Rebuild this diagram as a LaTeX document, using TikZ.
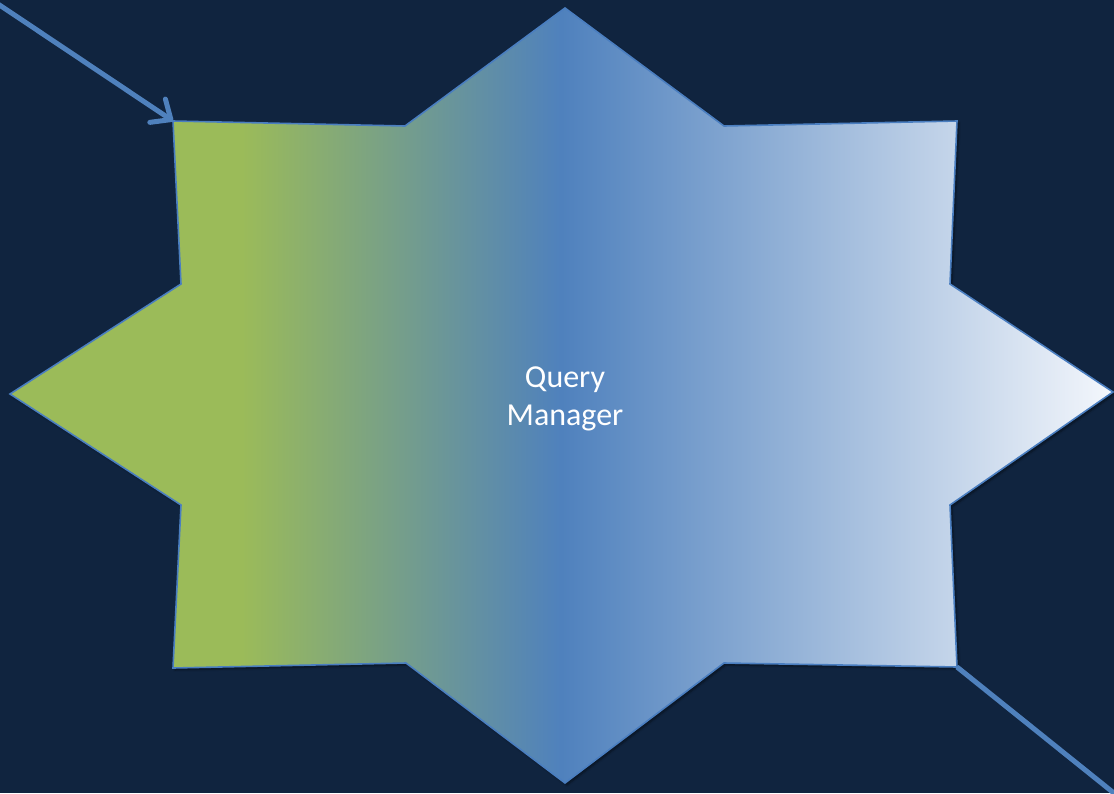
\documentclass[tikz,border=0pt]{standalone}
\usepackage{fontspec}
\setmainfont{Carlito}
\usetikzlibrary{arrows.meta,shadows.blur}

\definecolor{navy}{HTML}{10243F}
\definecolor{qgreen}{HTML}{9BBB59}
\definecolor{qblue}{HTML}{4F81BD}
\definecolor{qwhite}{HTML}{F4F7FC}
\definecolor{qedge}{HTML}{4A7EC0}

% left-to-right fill: green, steel blue, near white
\pgfdeclarehorizontalshading{starfill}{100bp}{%
  color(0bp)=(qgreen); color(25bp)=(qgreen); color(35.5bp)=(qgreen);
  color(50bp)=(qblue); color(75bp)=(qwhite); color(100bp)=(qwhite)}

\tikzset{
  starshape/.style={draw=qedge, line width=1.6pt, line join=miter,
    shading=starfill,
    blur shadow={shadow xshift=2pt, shadow yshift=-2pt,
      shadow blur steps=6, shadow opacity=45}},
  link/.style={draw=qblue, line width=5pt},
  label/.style={text=white, font=\fontsize{32}{38}\selectfont,
    align=center, inner sep=0pt}
}

\begin{document}
\begin{tikzpicture}[x=1pt, y=-1pt]
  \fill[navy] (0,0) rectangle (1114,793);
  \clip (0,0) rectangle (1114,793);

  % corners of the eight-pointed star
  \coordinate (top) at (565,8);
  \coordinate (tr1) at (724,126);
  \coordinate (tr)  at (957,121);
  \coordinate (tr2) at (950,284);
  \coordinate (rt)  at (1113,392);
  \coordinate (br2) at (950,505);
  \coordinate (br)  at (957,667);
  \coordinate (br1) at (724,663);
  \coordinate (bot) at (565,783);
  \coordinate (bl1) at (406,663);
  \coordinate (bl)  at (173,668);
  \coordinate (bl2) at (181,505);
  \coordinate (lf)  at (10,394);
  \coordinate (tl2) at (181,284);
  \coordinate (tl)  at (173,121);
  \coordinate (tl1) at (405,126);

  \path[starshape] (top) -- (tr1) -- (tr) -- (tr2) -- (rt) -- (br2) -- (br)
    -- (br1) -- (bot) -- (bl1) -- (bl) -- (bl2) -- (lf) -- (tl2) -- (tl)
    -- (tl1) -- cycle;

  \node[label] (qm) at (565,399) {Query\\Manager};

  % incoming and outgoing connectors
  \coordinate (src) at (-2,4);
  \coordinate (dst) at (1135,810);
  \draw[link, line cap=round,
    -{Straight Barb[length=16pt, width=28pt, line cap=round, line join=round]}]
    (src) -- (tl);
  \draw[link] (br) -- (dst);
\end{tikzpicture}
\end{document}
